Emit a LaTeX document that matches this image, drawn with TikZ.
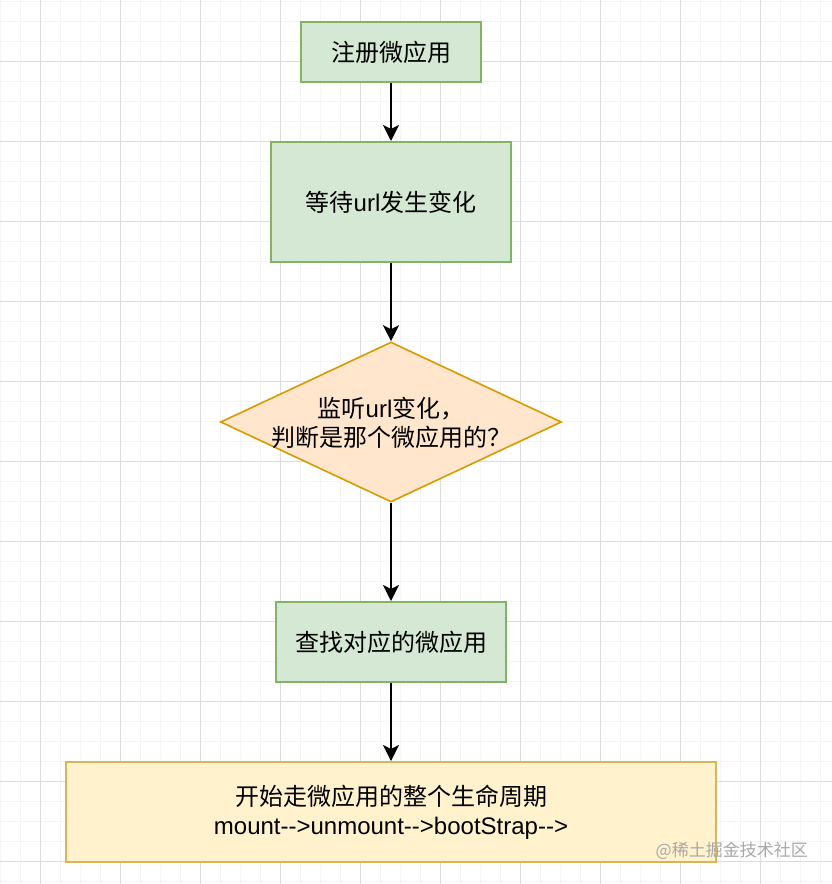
\documentclass[tikz,border=0pt]{standalone}
\usepackage{fontspec}
\setmainfont{Liberation Sans}
\newfontfamily\cjk{Noto Sans CJK SC}
\usetikzlibrary{shapes.geometric,arrows.meta}
\definecolor{gfill}{HTML}{D5E8D4}
\definecolor{gline}{HTML}{82B366}
\definecolor{ofill}{HTML}{FFE6CC}
\definecolor{oline}{HTML}{D79B00}
\definecolor{yfill}{HTML}{FFF2CC}
\definecolor{yline}{HTML}{D6B656}
\definecolor{gridminor}{HTML}{F4F4F4}
\definecolor{gridmajor}{HTML}{DCDCDC}
\definecolor{wmark}{HTML}{A8A8A8}
\tikzset{
  greenbox/.style={draw=gline, fill=gfill, line width=2pt, inner sep=0pt, align=center},
  yellowbox/.style={draw=yline, fill=yfill, line width=2pt, inner sep=0pt, align=center},
  decision/.style={diamond, draw=oline, fill=ofill, line width=1.6pt, inner sep=0pt},
  flowtext/.style={font=\fontsize{24}{29}\selectfont, align=center},
  flow/.style={draw=black, line width=2pt, -{Stealth[length=16pt,width=16pt,inset=4pt]}},
}
\begin{document}
\begin{tikzpicture}[x=1pt, y=-1pt]
\useasboundingbox (0,0) rectangle (832,884);
\fill[white] (0,0) rectangle (832,884);
% grid
\foreach \x in {0,20,...,840} \draw[gridminor, line width=1pt] (\x+0.5,0) -- (\x+0.5,884);
\foreach \y in {0,20,...,880} \draw[gridminor, line width=1pt] (0,\y+1.5) -- (832,\y+1.5);
\foreach \x in {40,120,...,840} \draw[gridmajor, line width=1pt] (\x,0) -- (\x,884);
\foreach \y in {60,140,...,880} \draw[gridmajor, line width=1pt] (0,\y+1.5) -- (832,\y+1.5);

% nodes
\node[greenbox, flowtext, minimum width=180pt, minimum height=60pt] (reg) at (391,52) {\cjk 注册微应用};
\node[greenbox, flowtext, minimum width=240pt, minimum height=120pt] (wait) at (391,202) {{\cjk 等待}url{\cjk 发生变化}};
\node[decision, minimum width=341pt, minimum height=160pt] (dec) at (391,422) {};
\node[flowtext] (dectext) at (391,423) {{\cjk 监听}url{\cjk 变化，}\\{\cjk 判断是那个微应用的？}};
\node[greenbox, flowtext, minimum width=230pt, minimum height=80pt] (find) at (391,642) {\cjk 查找对应的微应用};
\node[yellowbox, flowtext, minimum width=650pt, minimum height=100pt] (life) at (391,812) {{\cjk 开始走微应用的整个生命周期}\\mount-{}->unmount-{}->bootStrap-{}->};
\node[anchor=east, text=wmark, inner sep=0pt, font=\cjk\fontsize{17}{20}\selectfont] (wm) at (808,851) {@稀土掘金技术社区};

% connectors
\draw[flow] (reg) -- (wait);
\draw[flow] (wait) -- (dec);
\draw[flow] (dec) -- (find);
\draw[flow] (find) -- (life);
\end{tikzpicture}
\end{document}
